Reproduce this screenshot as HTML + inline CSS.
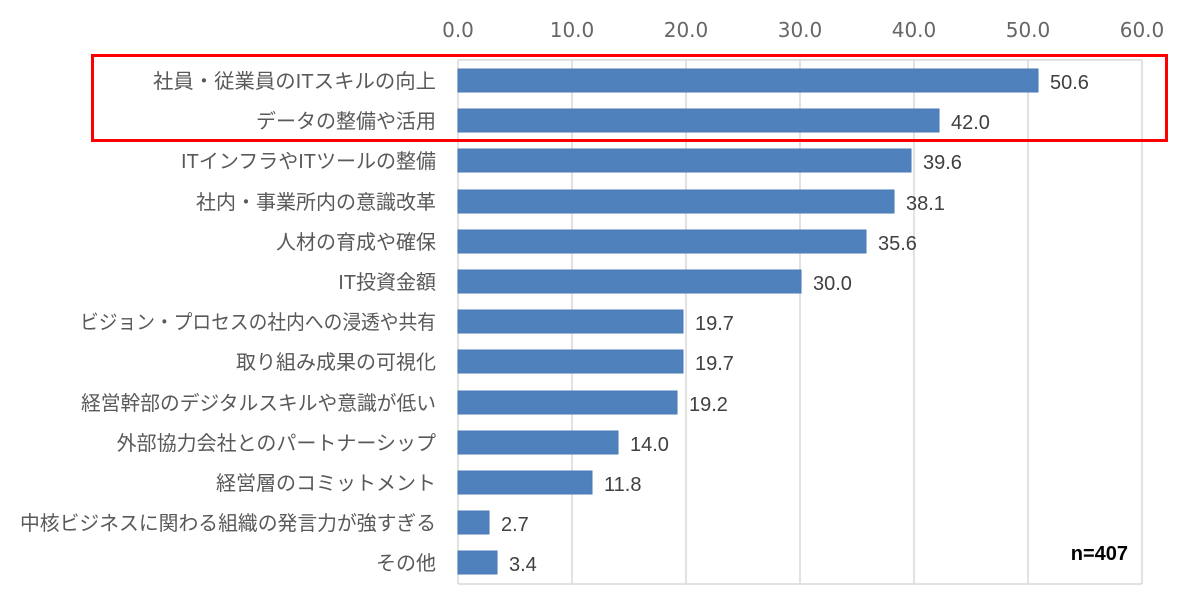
<!DOCTYPE html>
<html><head><meta charset="utf-8"><style>
body{margin:0;background:#fff;}
svg text{font-family:"Liberation Sans","Noto Sans CJK JP",sans-serif;}
</style></head><body>
<svg width="1190" height="602" xmlns="http://www.w3.org/2000/svg">
<rect width="1190" height="602" fill="#fff"/>
<g stroke="#d9d9d9" stroke-width="1.5">
<line x1="572" y1="60" x2="572" y2="584"/>
<line x1="686" y1="60" x2="686" y2="584"/>
<line x1="800" y1="60" x2="800" y2="584"/>
<line x1="914" y1="60" x2="914" y2="584"/>
<line x1="1028" y1="60" x2="1028" y2="584"/>
<line x1="1142" y1="60" x2="1142" y2="584"/>
<line x1="458" y1="60" x2="458" y2="584"/>
<line x1="458" y1="584" x2="1142" y2="584"/>
<line x1="458" y1="60" x2="1142" y2="60"/>
</g>
<g font-size="20" fill="#666" text-anchor="middle" font-family="DejaVu Sans, sans-serif">
<text x="458" y="37" style="font-family:'DejaVu Sans',sans-serif">0.0</text><text x="572" y="37" style="font-family:'DejaVu Sans',sans-serif">10.0</text><text x="686" y="37" style="font-family:'DejaVu Sans',sans-serif">20.0</text><text x="800" y="37" style="font-family:'DejaVu Sans',sans-serif">30.0</text><text x="914" y="37" style="font-family:'DejaVu Sans',sans-serif">40.0</text><text x="1028" y="37" style="font-family:'DejaVu Sans',sans-serif">50.0</text><text x="1142" y="37" style="font-family:'DejaVu Sans',sans-serif">60.0</text>
</g>
<g fill="#4f81bd" stroke="#4a7ab5" stroke-width="1">
<rect x="458" y="69" width="580" height="23"/>
<rect x="458" y="109" width="481" height="23"/>
<rect x="458" y="149" width="453" height="23"/>
<rect x="458" y="190" width="436" height="23"/>
<rect x="458" y="230" width="408" height="23"/>
<rect x="458" y="270" width="343" height="23"/>
<rect x="458" y="310" width="225" height="23"/>
<rect x="458" y="350" width="225" height="23"/>
<rect x="458" y="391" width="219" height="23"/>
<rect x="458" y="431" width="160" height="23"/>
<rect x="458" y="471" width="134" height="23"/>
<rect x="458" y="511" width="31" height="23"/>
<rect x="458" y="551" width="39" height="23"/>
</g>
<g font-size="20" fill="#404040">
<text x="1050" y="89">50.6</text><text x="951" y="129">42.0</text><text x="923" y="169">39.6</text><text x="906" y="210">38.1</text><text x="878" y="250">35.6</text><text x="813" y="290">30.0</text><text x="695" y="330">19.7</text><text x="695" y="370">19.7</text><text x="689" y="411">19.2</text><text x="630" y="451">14.0</text><text x="604" y="491">11.8</text><text x="501" y="531">2.7</text><text x="509" y="571">3.4</text>
</g>
<g font-size="20" fill="#595959" text-anchor="end">
<text x="436" y="88" textLength="283" lengthAdjust="spacingAndGlyphs">社員・従業員のITスキルの向上</text>
<text x="436" y="128">データの整備や活用</text>
<text x="436" y="168">ITインフラやITツールの整備</text>
<text x="436" y="209">社内・事業所内の意識改革</text>
<text x="436" y="249">人材の育成や確保</text>
<text x="436" y="289">IT投資金額</text>
<text x="436" y="329" textLength="356" lengthAdjust="spacingAndGlyphs">ビジョン・プロセスの社内への浸透や共有</text>
<text x="436" y="369">取り組み成果の可視化</text>
<text x="436" y="410" textLength="355" lengthAdjust="spacingAndGlyphs">経営幹部のデジタルスキルや意識が低い</text>
<text x="436" y="450">外部協力会社とのパートナーシップ</text>
<text x="436" y="490">経営層のコミットメント</text>
<text x="436" y="530" textLength="416" lengthAdjust="spacingAndGlyphs">中核ビジネスに関わる組織の発言力が強すぎる</text>
<text x="436" y="570">その他</text>
</g>
<text x="1128" y="560" font-size="20" font-weight="bold" fill="#000" text-anchor="end">n=407</text>
<rect x="92.5" y="55.5" width="1074" height="85" fill="none" stroke="#ff0000" stroke-width="3"/>
</svg>
</body></html>
